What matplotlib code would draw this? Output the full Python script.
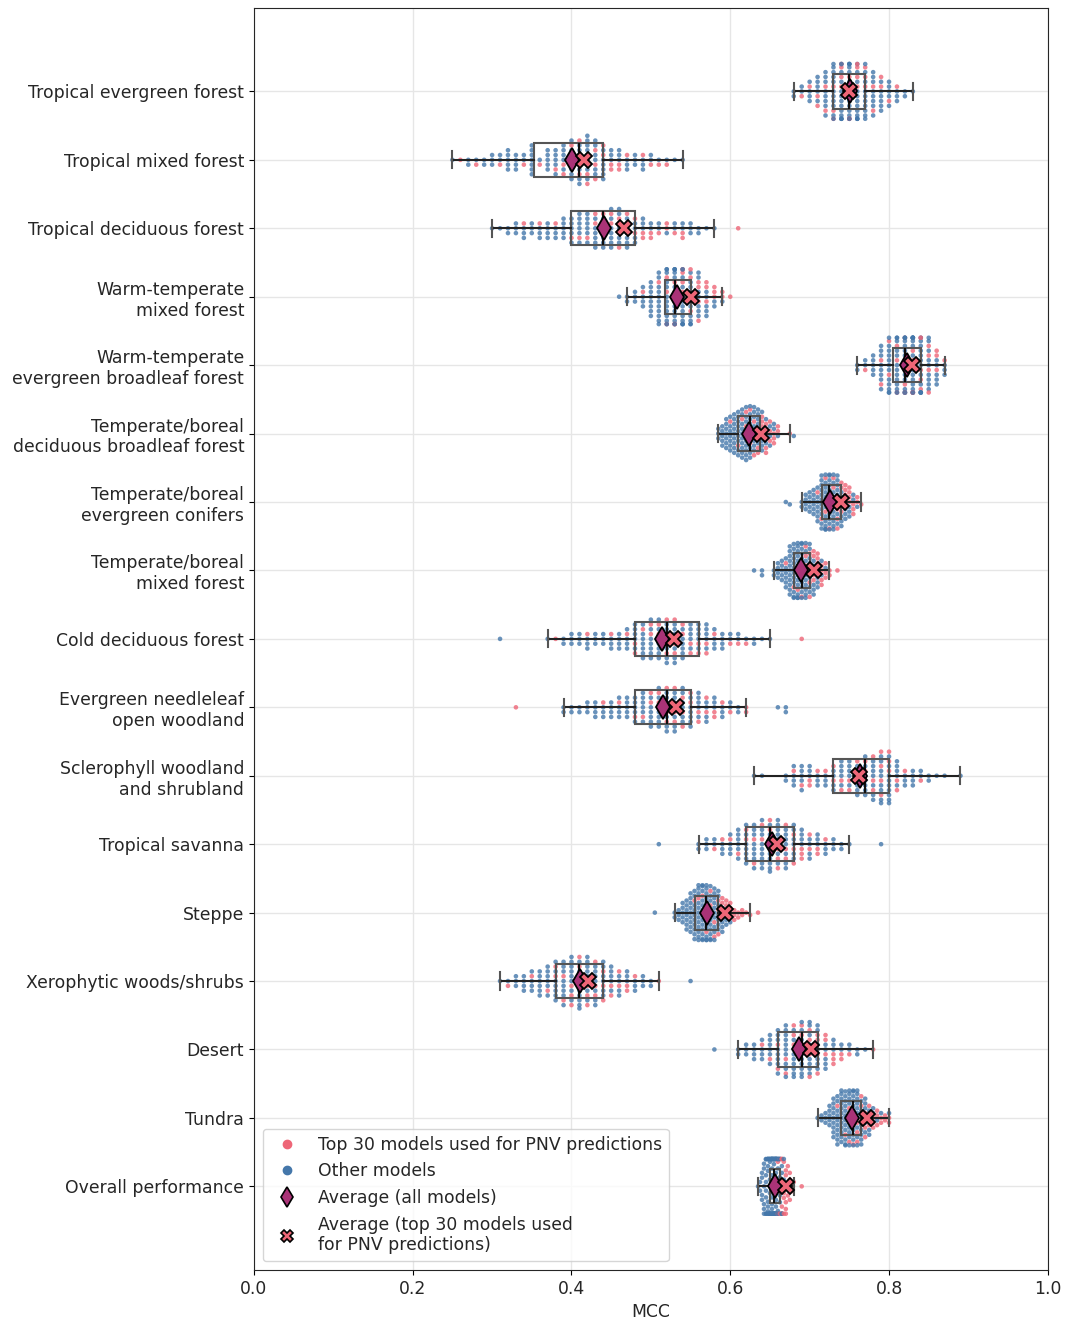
import numpy as np
import pandas as pd
import matplotlib
matplotlib.use("Agg")
import matplotlib.pyplot as plt
from matplotlib.lines import Line2D
import seaborn as sns

# biomes, top to bottom
categories = [
    "Tropical evergreen forest",
    "Tropical mixed forest",
    "Tropical deciduous forest",
    "Warm-temperate\nmixed forest",
    "Warm-temperate\nevergreen broadleaf forest",
    "Temperate/boreal\ndeciduous broadleaf forest",
    "Temperate/boreal\nevergreen conifers",
    "Temperate/boreal\nmixed forest",
    "Cold deciduous forest",
    "Evergreen needleleaf\nopen woodland",
    "Sclerophyll woodland\nand shrubland",
    "Tropical savanna",
    "Steppe",
    "Xerophytic woods/shrubs",
    "Desert",
    "Tundra",
    "Overall performance",
]

bin_start = [0.68, 0.25, 0.30, 0.46, 0.76, 0.585, 0.670, 0.630, 0.31, 0.33,
             0.63, 0.51, 0.505, 0.31, 0.58, 0.710, 0.635]
bin_step = [0.01, 0.01, 0.01, 0.01, 0.01, 0.005, 0.005, 0.005, 0.01, 0.01,
            0.01, 0.01, 0.005, 0.01, 0.01, 0.005, 0.0025]

all_counts = [
    [2, 3, 5, 7, 10, 14, 17, 18, 16, 13, 10, 8, 6, 4, 2, 1],
    [1, 1, 2, 2, 2, 3, 3, 5, 4, 3, 7, 2, 5, 6, 7, 9, 10, 11, 9, 8, 5, 5, 4, 3, 4, 3, 2, 2, 1, 1],
    [1, 1, 2, 3, 4, 3, 4, 4, 4, 5, 6, 7, 7, 8, 8, 9, 9, 8, 6, 5, 4, 3, 3, 3, 4, 3, 2, 1, 1, 0, 0, 1],
    [1, 2, 3, 5, 8, 12, 16, 18, 17, 14, 11, 8, 5, 3, 1],
    [2, 3, 5, 10, 14, 16, 20, 22, 18, 13, 8, 4],
    [3, 5, 7, 8, 9, 10, 11, 12, 12, 11, 10, 9, 8, 6, 5, 3, 0, 0, 1, 1],
    [1, 1, 0, 0, 2, 4, 5, 6, 8, 12, 14, 14, 13, 12, 10, 8, 7, 5, 3, 1],
    [1, 0, 2, 0, 0, 2, 4, 5, 7, 11, 13, 14, 14, 13, 12, 10, 8, 6, 4, 2, 0, 1],
    [1, 0, 0, 0, 0, 0, 1, 1, 2, 3, 3, 4, 3, 3, 4, 4, 5, 7, 8, 9, 9, 10, 10, 8, 7, 7, 7, 5, 4, 3,
     3, 2, 2, 1, 1, 0, 0, 0, 1],
    [1, 0, 0, 0, 0, 0, 2, 2, 2, 3, 4, 4, 4, 5, 5, 6, 7, 8, 9, 10, 10, 9, 8, 7, 6, 5, 4, 3, 2, 2,
     0, 0, 0, 1, 2],
    [1, 1, 0, 0, 2, 5, 6, 5, 4, 4, 6, 7, 7, 8, 9, 10, 12, 12, 7, 4, 4, 3, 2, 1, 1, 0, 1],
    [1, 0, 0, 0, 0, 2, 3, 3, 4, 5, 7, 9, 10, 11, 12, 11, 10, 9, 7, 6, 5, 4, 3, 2, 1, 0, 0, 0, 1],
    [1, 0, 0, 0, 0, 2, 3, 5, 7, 9, 11, 13, 14, 14, 13, 12, 10, 8, 6, 5, 3, 2, 2, 1, 1, 0, 1],
    [1, 2, 3, 4, 5, 6, 7, 9, 10, 11, 12, 11, 10, 9, 7, 6, 5, 4, 3, 2, 1, 0, 0, 0, 1],
    [1, 0, 0, 2, 3, 4, 5, 7, 10, 12, 12, 13, 13, 11, 8, 6, 4, 3, 2, 1, 1],
    [1, 2, 3, 5, 9, 11, 12, 13, 13, 14, 13, 11, 9, 7, 5, 4, 3, 2, 3],
    [1, 2, 4, 6, 8, 10, 12, 14, 14, 14, 12, 10, 8, 7, 5, 4, 3, 2, 1, 0, 0, 0, 1],
]

# how many of those models are in the top 30 (same bins)
top_counts = [
    [0, 1, 1, 2, 2, 3, 4, 4, 4, 3, 2, 2, 1, 1, 0, 0],
    [0, 1, 0, 1, 0, 0, 1, 0, 0, 1, 0, 1, 0, 1, 2, 2, 3, 3, 3, 2, 2, 2, 1, 0, 1, 1, 1, 1, 0, 0],
    [0, 0, 0, 0, 1, 0, 1, 0, 1, 0, 1, 1, 1, 2, 2, 2, 3, 2, 2, 2, 2, 1, 2, 1, 2, 0, 0, 0, 0, 0, 0, 1],
    [0, 0, 0, 1, 0, 1, 3, 4, 4, 4, 4, 3, 3, 2, 1],
    [0, 1, 0, 2, 2, 3, 4, 5, 5, 4, 3, 1],
    [0, 0, 0, 1, 0, 1, 1, 2, 2, 3, 3, 4, 4, 3, 3, 2, 0, 0, 1, 0],
    [0, 0, 0, 0, 0, 0, 0, 0, 1, 1, 2, 2, 3, 3, 4, 4, 4, 3, 2, 1],
    [0, 0, 0, 0, 0, 0, 0, 0, 1, 0, 1, 1, 2, 3, 4, 4, 4, 4, 3, 2, 0, 1],
    [0, 0, 0, 0, 0, 0, 0, 1, 0, 0, 0, 1, 0, 0, 1, 0, 1, 2, 1, 2, 2, 3, 3, 2, 2, 2, 2, 1, 0, 1,
     1, 1, 0, 0, 0, 0, 0, 0, 1],
    [1, 0, 0, 0, 0, 0, 0, 0, 0, 0, 0, 1, 0, 1, 0, 1, 1, 2, 2, 3, 3, 3, 2, 2, 2, 2, 1, 1, 0, 2,
     0, 0, 0, 0, 0],
    [0, 0, 0, 0, 0, 1, 1, 2, 1, 1, 2, 2, 2, 2, 2, 3, 4, 3, 2, 1, 0, 1, 0, 0, 0, 0, 0],
    [0, 0, 0, 0, 0, 0, 0, 1, 1, 1, 1, 2, 2, 2, 3, 3, 3, 3, 3, 2, 2, 1, 0, 0, 0, 0, 0, 0, 0],
    [0, 0, 0, 0, 0, 0, 0, 0, 0, 0, 1, 1, 1, 1, 2, 2, 3, 3, 3, 3, 3, 2, 2, 1, 1, 0, 1],
    [0, 1, 0, 0, 1, 0, 1, 2, 2, 3, 3, 3, 3, 3, 2, 2, 2, 1, 0, 0, 1, 0, 0, 0, 0],
    [0, 0, 0, 0, 0, 0, 1, 1, 2, 2, 3, 3, 4, 4, 3, 3, 2, 1, 0, 0, 1],
    [0, 0, 0, 0, 0, 1, 0, 1, 2, 2, 3, 3, 3, 3, 3, 3, 2, 2, 2],
    [0, 0, 0, 0, 0, 0, 0, 0, 0, 0, 2, 3, 4, 5, 5, 4, 3, 2, 1, 0, 0, 0, 1],
]

RED = "#EE6677"
BLUE = "#4477AA"
PURPLE = "#AA3377"
INK = "#262626"

rows = []
for cat, lo, st, ca, ct in zip(categories, bin_start, bin_step, all_counts, top_counts):
    for i, (a, t) in enumerate(zip(ca, ct)):
        v = round(lo + i * st, 4)
        # spread the top-30 models through the stack so they are mixed in the swarm
        slots = ["other"] * a
        for k in range(t):
            slots[int((k + 0.5) * a / t)] = "top"
        rows += [(cat, v, g) for g in slots]
df = pd.DataFrame(rows, columns=["biome", "mcc", "group"])

plt.rcParams["font.size"] = 12.4
plt.rcParams["text.color"] = INK
plt.rcParams["axes.labelcolor"] = INK
plt.rcParams["xtick.labelcolor"] = INK
plt.rcParams["ytick.labelcolor"] = INK

fig = plt.figure(figsize=(10.67, 13.2), dpi=100)
ax = fig.add_axes([0.238, 0.038, 0.744, 0.956])

sns.swarmplot(data=df, x="mcc", y="biome", hue="group", order=categories,
              hue_order=["top", "other"], palette={"top": RED, "other": BLUE},
              orient="h", size=3.3, alpha=0.8, legend=False, ax=ax, zorder=2)

pos = np.arange(len(categories))
vals = [df.loc[df.biome == c, "mcc"].values for c in categories]
ax.boxplot(vals, positions=pos, orientation="horizontal", widths=0.5, showfliers=False,
           patch_artist=True, manage_ticks=False,
           boxprops=dict(facecolor="none", edgecolor="#555555", lw=1.5),
           whiskerprops=dict(color="#222222", lw=1.5),
           capprops=dict(color="#555555", lw=1.5),
           medianprops=dict(color="#111111", lw=1.5), zorder=3)

mean_all = [v.mean() for v in vals]
mean_top = [df.loc[(df.biome == c) & (df.group == "top"), "mcc"].mean() for c in categories]
ax.plot(mean_all, pos, ls="none", marker="d", color=PURPLE, mec="black", ms=12, mew=1.3, zorder=4)
ax.plot(mean_top, pos, ls="none", marker="X", color=RED, mec="black", ms=11.5, mew=1.3, zorder=5)

ax.set_yticks(pos)
ax.set_yticklabels(categories)
ax.set_ylim(len(categories) - 1 + 1.22, -1.22)
ax.set_xlim(0, 1)
ax.set_xticks(np.arange(0, 1.01, 0.2))
ax.set_xlabel("MCC")
ax.set_ylabel("")
ax.grid(True, color="#e6e6e6", lw=1)
ax.set_axisbelow(True)
for s in ax.spines.values():
    s.set_visible(True)
    s.set_color(INK)

handles = [
    Line2D([], [], ls="none", marker="o", color=RED, ms=6),
    Line2D([], [], ls="none", marker="o", color=BLUE, ms=6),
    Line2D([], [], ls="none", marker="d", color=PURPLE, mec="black", ms=10, mew=1.2),
    Line2D([], [], ls="none", marker="X", color=RED, mec="black", ms=8, mew=1.2),
]
labels = ["Top 30 models used for PNV predictions", "Other models",
          "Average (all models)", "Average (top 30 models used\nfor PNV predictions)"]
ax.legend(handles, labels, loc="lower left")

fig.savefig("out.png", dpi=100)
